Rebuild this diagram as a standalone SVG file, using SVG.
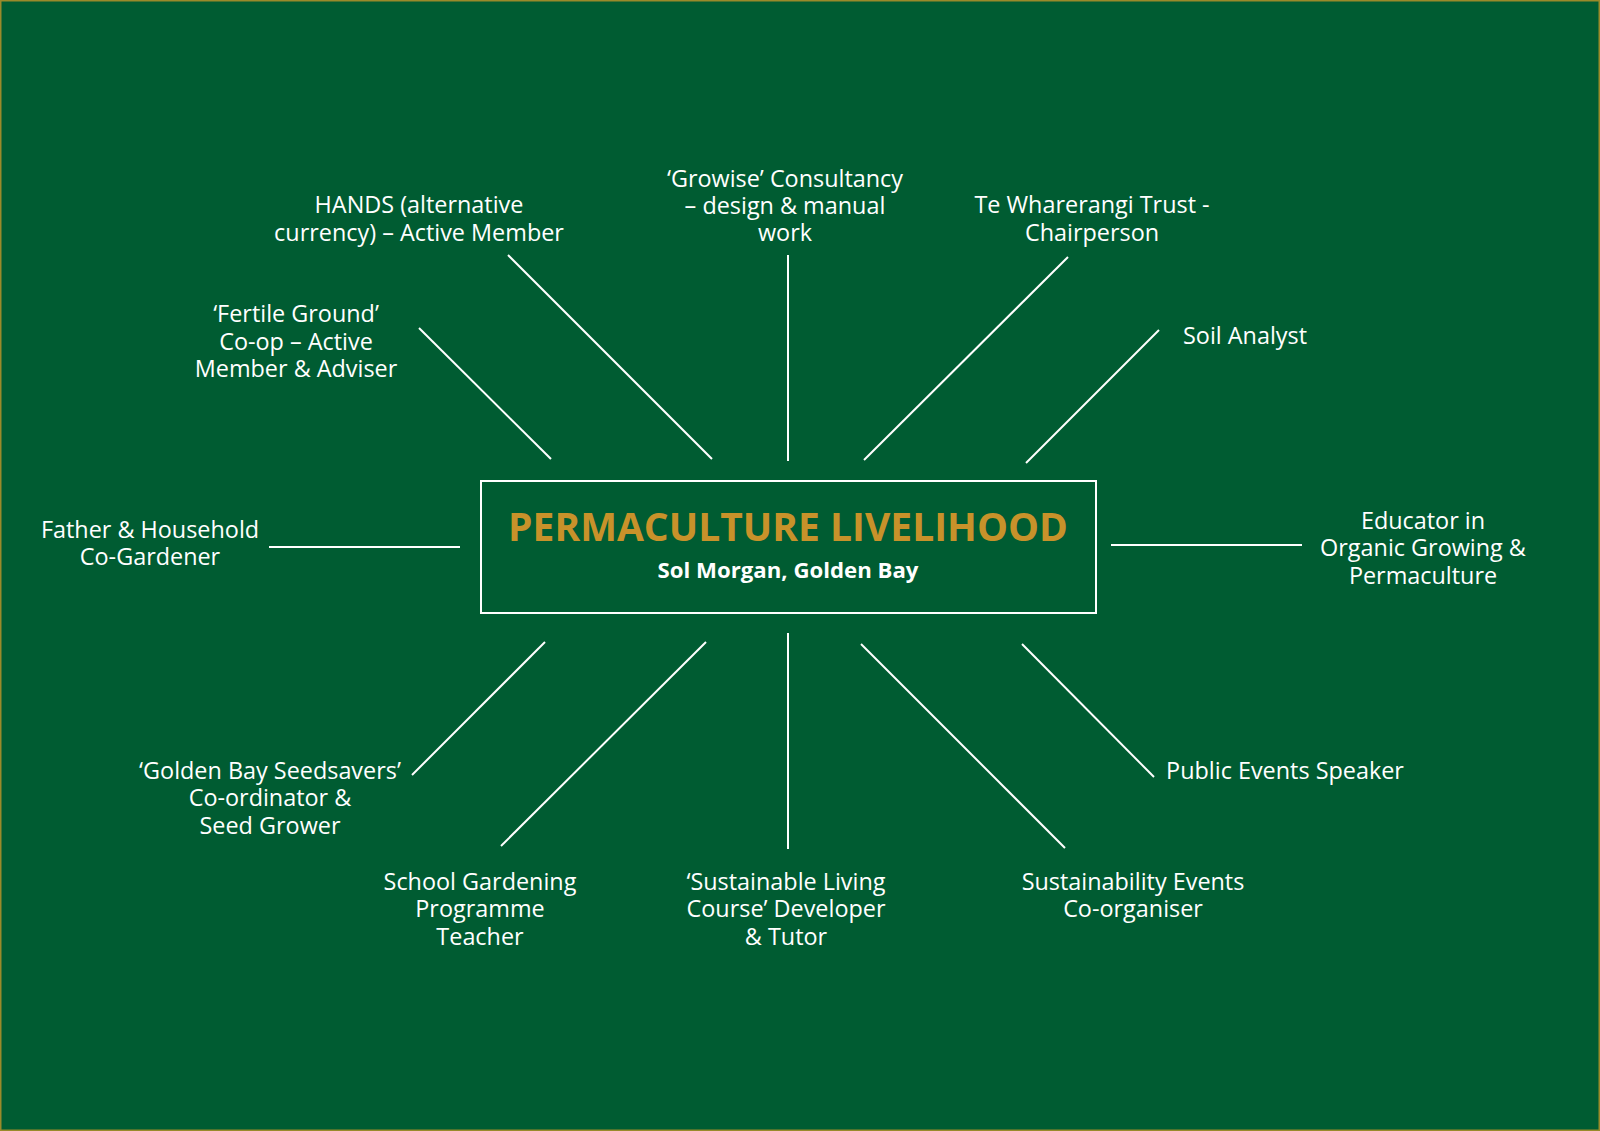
<svg xmlns="http://www.w3.org/2000/svg" width="1600" height="1131" viewBox="0 0 1600 1131">
<style>
.lbl{font-family:"Open Sans","Liberation Sans",sans-serif;font-size:23.4px;fill:#ffffff;text-anchor:middle;font-weight:500}
.con line{stroke:#ffffff;stroke-width:2;stroke-linecap:butt}
.title{font-family:"Open Sans","Liberation Sans",sans-serif;font-weight:700;font-size:39px;fill:#c8922a;text-anchor:middle}
.sub{font-family:"Open Sans","Liberation Sans",sans-serif;font-weight:700;font-size:22.2px;fill:#ffffff;text-anchor:middle}
</style>
<rect x="0.75" y="0.75" width="1598.5" height="1129.5" fill="#005c32" stroke="#9a8a2a" stroke-width="1.5"/>
<g id="connectors" class="con">
<line x1="508" y1="255" x2="712" y2="459"/>
<line x1="788" y1="255" x2="788" y2="461"/>
<line x1="1068" y1="257" x2="864" y2="460"/>
<line x1="1159" y1="330" x2="1026" y2="463"/>
<line x1="419" y1="328" x2="551" y2="459"/>
<line x1="269" y1="547" x2="460" y2="547"/>
<line x1="1111" y1="545" x2="1302" y2="545"/>
<line x1="545" y1="642" x2="412" y2="775"/>
<line x1="706" y1="642" x2="501" y2="846"/>
<line x1="788" y1="633" x2="788" y2="849"/>
<line x1="861" y1="644" x2="1065" y2="848"/>
<line x1="1022" y1="644" x2="1154" y2="777"/>
</g>
<g id="center">
<rect x="481" y="481" width="615" height="132" fill="none" stroke="#ffffff" stroke-width="2"/>
<text class="title" x="788" y="541">PERMACULTURE LIVELIHOOD</text>
<text class="sub" x="788" y="578">Sol Morgan, Golden Bay</text>
</g>
<g id="hands"><text class="lbl" x="419"><tspan x="419" y="213">HANDS (alternative</tspan><tspan x="419" y="241">currency) – Active Member</tspan></text></g>
<g id="growise"><text class="lbl"><tspan x="785" y="187">‘Growise’ Consultancy</tspan><tspan x="785" y="214">– design &amp; manual</tspan><tspan x="785" y="241">work</tspan></text></g>
<g id="wharerangi"><text class="lbl"><tspan x="1092" y="213">Te Wharerangi Trust -</tspan><tspan x="1092" y="241">Chairperson</tspan></text></g>
<g id="soil"><text class="lbl"><tspan x="1245" y="344">Soil Analyst</tspan></text></g>
<g id="fertile"><text class="lbl"><tspan x="296" y="322">‘Fertile Ground’</tspan><tspan x="296" y="350">Co-op – Active</tspan><tspan x="296" y="377">Member &amp; Adviser</tspan></text></g>
<g id="father"><text class="lbl"><tspan x="150" y="538">Father &amp; Household</tspan><tspan x="150" y="565">Co-Gardener</tspan></text></g>
<g id="educator"><text class="lbl"><tspan x="1423" y="529">Educator in</tspan><tspan x="1423" y="556">Organic Growing &amp;</tspan><tspan x="1423" y="584">Permaculture</tspan></text></g>
<g id="seedsavers"><text class="lbl"><tspan x="270" y="779">‘Golden Bay Seedsavers’</tspan><tspan x="270" y="806">Co-ordinator &amp;</tspan><tspan x="270" y="834">Seed Grower</tspan></text></g>
<g id="public"><text class="lbl"><tspan x="1285" y="779">Public Events Speaker</tspan></text></g>
<g id="school"><text class="lbl"><tspan x="480" y="890">School Gardening</tspan><tspan x="480" y="917">Programme</tspan><tspan x="480" y="945">Teacher</tspan></text></g>
<g id="sustainable"><text class="lbl"><tspan x="786" y="890">‘Sustainable Living</tspan><tspan x="786" y="917">Course’ Developer</tspan><tspan x="786" y="945">&amp; Tutor</tspan></text></g>
<g id="events"><text class="lbl"><tspan x="1133" y="890">Sustainability Events</tspan><tspan x="1133" y="917">Co-organiser</tspan></text></g>
</svg>
